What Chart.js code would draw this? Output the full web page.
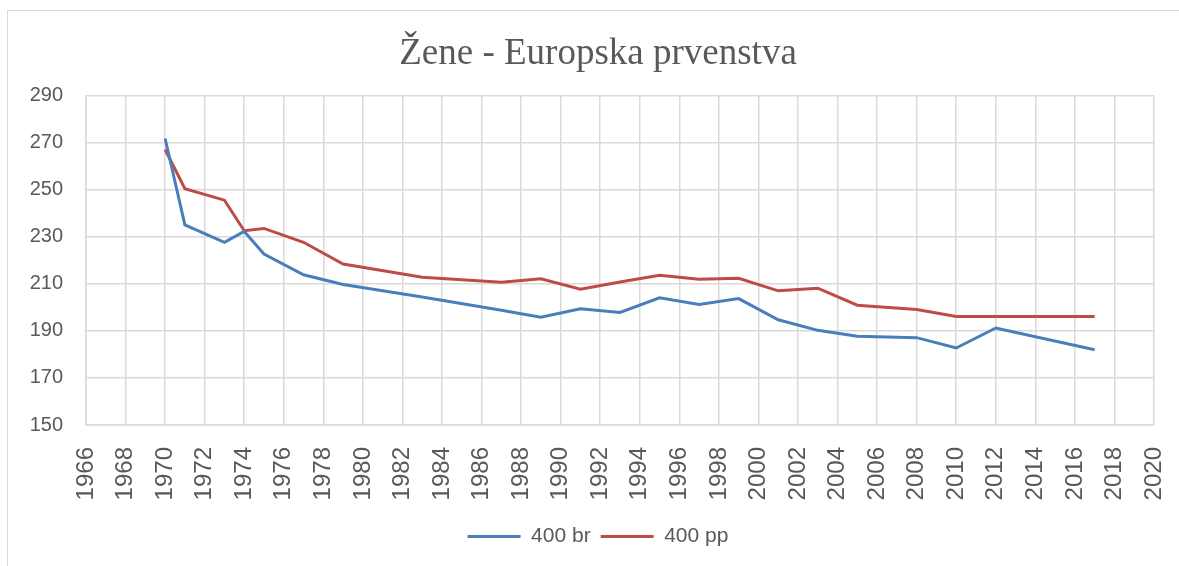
<!DOCTYPE html>
<html lang="hr">
  <head>
    <meta charset="UTF-8" />
    <title>Žene - Europska prvenstva</title>
    <script src="https://cdn.jsdelivr.net/npm/chart.js"></script>
    <style>
      body {
        margin: 0;
        background: #fff;
        overflow: hidden;
      }
      .frame {
        position: absolute;
        left: 7px;
        top: 10px;
        width: 1172px;
        height: 556px;
        border-left: 1px solid #d9d9d9;
        border-top: 1px solid #d9d9d9;
      }
      #chart {
        position: absolute;
        left: 8px;
        top: 10px;
      }
    </style>
  </head>
  <body>
    <div class="frame"></div>
    <canvas id="chart" width="1180" height="556"></canvas>

    <script>
      // godine i vremena (sekunde), procitano s grafa
      const years = [1970, 1971, 1973, 1974, 1975, 1977, 1979, 1983, 1987, 1989, 1991,
        1993, 1995, 1997, 1999, 2001, 2003, 2005, 2008, 2010, 2012, 2017];
      const br400 = [271.7, 235, 227.6, 232.2, 222.6, 213.8, 209.7, 204.4, 198.7, 195.8, 199.4,
        197.8, 204, 201.2, 203.7, 194.7, 190.2, 187.7, 187.1, 182.7, 191.2, 182];
      const pp400 = [267, 250.4, 245.5, 232.5, 233.5, 227.6, 218.4, 212.8, 210.6, 212.1, 207.7,
        210.7, 213.6, 211.9, 212.3, 207, 208.1, 200.9, 199.1, 196.1, 196.1, 196.1];
      const seriesNames = ["400 br", "400 pp"];

      const textColor = "#595959";
      const gridColor = "#d9d9d9";
      const sans = "'Liberation Sans', Arial, sans-serif";

      const toPoints = (vals) => years.map((y, i) => ({ x: y, y: vals[i] }));

      new Chart(document.getElementById("chart"), {
        type: "line",
        data: {
          datasets: [
            {
              label: seriesNames[0],
              data: toPoints(br400),
              borderColor: "#4A7EBB",
              backgroundColor: "#4A7EBB",
              borderWidth: 3,
              pointRadius: 0,
              tension: 0,
              pointStyle: "line",
            },
            {
              label: seriesNames[1],
              data: toPoints(pp400),
              borderColor: "#BE4B48",
              backgroundColor: "#BE4B48",
              borderWidth: 3,
              pointRadius: 0,
              tension: 0,
              pointStyle: "line",
            },
          ],
        },
        options: {
          responsive: false,
          animation: false,
          layout: { padding: { left: 0, right: 0, top: 0, bottom: 9 } },
          plugins: {
            title: {
              display: true,
              text: "Žene - Europska prvenstva",
              color: textColor,
              font: { family: "'Liberation Serif', 'Times New Roman', serif", size: 37, weight: "normal" },
              padding: { top: 22, bottom: 19 },
            },
            legend: {
              position: "bottom",
              labels: {
                usePointStyle: true,
                pointStyleWidth: 53,
                boxHeight: 20,
                color: textColor,
                padding: 10,
                font: { family: sans, size: 21 },
              },
            },
            tooltip: { enabled: false },
          },
          scales: {
            x: {
              type: "linear",
              min: 1966,
              max: 2020,
              grid: { color: gridColor, lineWidth: 1.5, drawTicks: false },
              border: { color: gridColor, width: 1.5 },
              ticks: {
                stepSize: 2,
                autoSkip: false,
                maxRotation: 90,
                minRotation: 90,
                padding: 22,
                color: textColor,
                font: { family: sans, size: 24 },
                callback: (v) => String(v),
              },
              afterFit: (scale) => {
                scale.height = 91;
                scale.paddingLeft = 0;
                scale.paddingRight = 0;
              },
            },
            y: {
              min: 150,
              max: 290,
              grid: { color: gridColor, lineWidth: 1.5, drawTicks: false },
              border: { color: gridColor, width: 1.5 },
              ticks: {
                stepSize: 20,
                padding: 23,
                color: textColor,
                font: { family: sans, size: 20 },
              },
              afterFit: (scale) => {
                scale.width = 78;
              },
            },
            // prazan prostor desno od grafa
            yRight: {
              position: "right",
              grid: { display: false },
              border: { display: false },
              ticks: { display: false },
              afterFit: (scale) => {
                scale.width = 34;
              },
            },
          },
        },
      });
    </script>
  </body>
</html>
